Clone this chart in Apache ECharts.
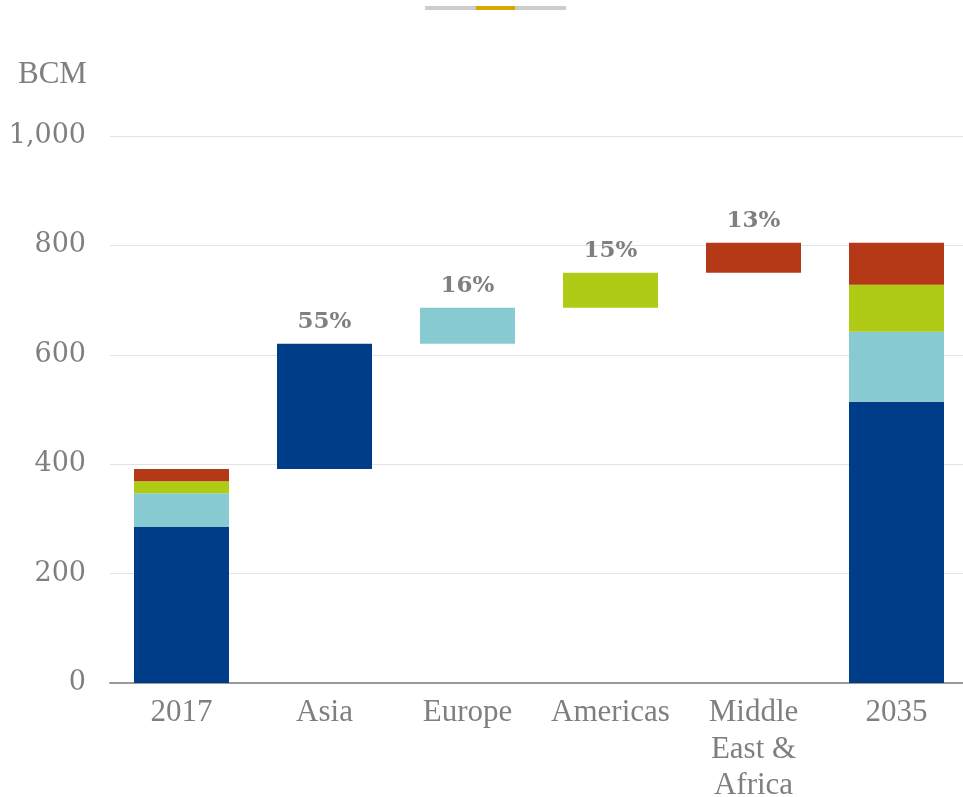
<!DOCTYPE html>
<html><head><meta charset="utf-8">
<script src="https://cdn.jsdelivr.net/npm/echarts@6/dist/echarts.min.js"></script>
<style>html,body{margin:0;padding:0;background:#fff}#c{width:963px;height:797px}</style>
</head><body><div id="c"></div>
<script>
var categories = ['2017', 'Asia', 'Europe', 'Americas', 'Middle\nEast &\nAfrica', '2035'];
var blueVals = [285, 229, 0, 0, 0, 514];
var lightBlueVals = [62, 0, 66, 0, 0, 128];
var greenVals = [22, 0, 0, 64, 0, 86];
var redVals = [22, 0, 0, 0, 55, 77];
var shareLabels = ['', '55%', '16%', '15%', '13%', ''];
var yTicks = [0, 200, 400, 600, 800, 1000];

// invisible base for the bridge steps: cumulative total before each step
var baseVals = [];
var running = 0;
for (var i = 0; i < categories.length; i++) {
  var isTotal = (i === 0 || i === categories.length - 1);
  if (isTotal) { baseVals.push(0); }
  else { baseVals.push(running); }
  var step = blueVals[i] + lightBlueVals[i] + greenVals[i] + redVals[i];
  running = isTotal ? (i === 0 ? step : running) : running + step;
}

var chart = echarts.init(document.getElementById('c'), null, {renderer: 'canvas'});
var grey = '#7f7f7f';
function lbl(arr) {
  return {
    show: true, position: 'top', distance: 10,
    fontFamily: 'DejaVu Serif', fontWeight: 'bold', fontSize: 23, color: grey,
    formatter: function (p) { return (arr[p.dataIndex] > 0 && shareLabels[p.dataIndex]) ? shareLabels[p.dataIndex] : ''; }
  };
}
function ser(name, data, color) {
  return {name: name, type: 'bar', stack: 'w', data: data, barWidth: 95,
    itemStyle: {color: color}, label: lbl(data), silent: true};
}
chart.setOption({
  animation: false,
  grid: {left: 110, top: 136, width: 858, height: 547, containLabel: false, outerBoundsMode: 'none'},
  graphic: [
    {type: 'rect', shape: {x: 425, y: 6, width: 141, height: 4}, style: {fill: '#cccccc'}},
    {type: 'rect', shape: {x: 476, y: 6, width: 39, height: 4}, style: {fill: '#d9a800'}},
    {type: 'text', left: 18, top: 59, style: {text: 'BCM', fontFamily: 'Liberation Serif', fontSize: 31, fill: grey}}
  ],
  xAxis: {
    type: 'category', data: categories,
    axisLine: {lineStyle: {color: '#999999', width: 2}},
    axisTick: {show: false},
    axisLabel: {fontFamily: 'Liberation Serif', fontSize: 31, color: grey, lineHeight: 36.5, margin: 12, interval: 0}
  },
  yAxis: {
    type: 'value', min: yTicks[0], max: yTicks[yTicks.length - 1], interval: 200,
    axisLine: {show: false}, axisTick: {show: false},
    splitLine: {lineStyle: {color: '#e3e3e3', width: 1}},
    axisLabel: {fontFamily: 'DejaVu Serif', fontSize: 27, color: grey, margin: 24,
      formatter: function (v) { return v.toLocaleString('en-US'); }}
  },
  series: [
    {name: 'base', type: 'bar', stack: 'w', data: baseVals, barWidth: 95,
      itemStyle: {color: 'rgba(0,0,0,0)'}, silent: true},
    ser('Asia', blueVals, '#003d89'),
    ser('Europe', lightBlueVals, '#87cad2'),
    ser('Americas', greenVals, '#afcb15'),
    ser('Middle East & Africa', redVals, '#b53917')
  ]
});
</script></body></html>
